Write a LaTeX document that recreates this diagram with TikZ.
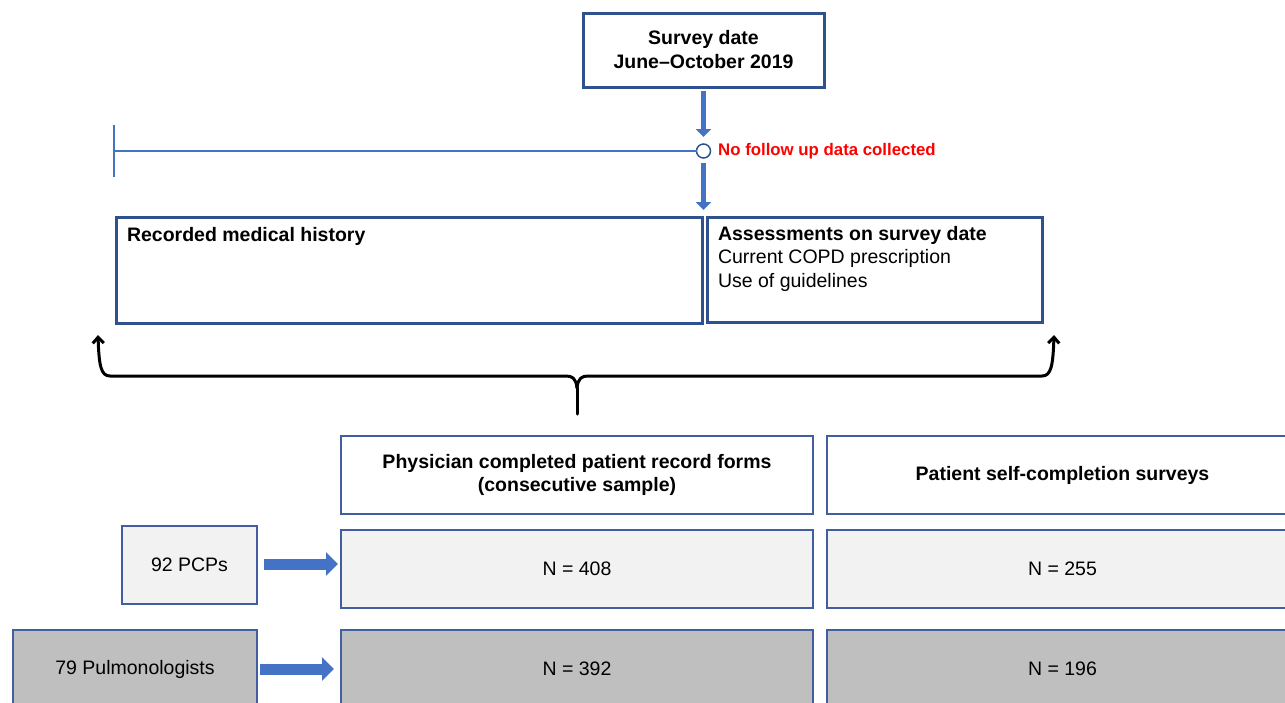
\documentclass[tikz,border=0pt]{standalone}
\usepackage{fontspec}
\setmainfont{Liberation Sans}
\usetikzlibrary{arrows.meta}
\definecolor{boxblue}{RGB}{47,82,143}
\definecolor{edgeblue}{RGB}{65,95,160}
\definecolor{accblue}{RGB}{68,114,196}
\definecolor{lightfill}{RGB}{242,242,242}
\definecolor{darkfill}{RGB}{191,191,191}
\definecolor{alertred}{RGB}{255,0,0}
\tikzset{
  thickbox/.style={draw=boxblue, line width=3pt, fill=white, inner sep=0pt, outer sep=0pt},
  thinbox/.style={draw=edgeblue, line width=1.5pt, inner sep=0pt, outer sep=0pt, align=center,
                  font=\fontsize{19.5}{23.5}\selectfont},
  txt/.style={inner sep=0pt, outer sep=0pt, font=\fontsize{19.5}{23.5}\selectfont},
  downarrow/.style={draw=accblue, line width=5.5pt, -{Triangle[length=8pt,width=15pt]}},
  blockarrow/.style={draw=accblue, line width=11pt, -{Triangle[length=12pt,width=23pt]}},
  braceline/.style={draw=black, line width=3pt, line cap=round, line join=round},
  bracetip/.style={braceline, -{Straight Barb[length=6pt,width=11pt,line width=3pt]}},
  timeline/.style={draw=accblue, line width=2.2pt}
}
\begin{document}
\begin{tikzpicture}[x=1pt,y=-1pt]
\useasboundingbox (0,0) rectangle (1285,702);

% top box
\node[thickbox, minimum width=241pt, minimum height=74pt, align=center,
      font=\bfseries\fontsize{19.5}{24}\selectfont] (survey) at (703.5,50) {Survey date\\June--October 2019};

% timeline
\node[circle, draw=boxblue, fill=white, line width=1.5pt, minimum size=14pt, inner sep=0pt, outer sep=0pt] (circ) at (703.5,151) {};
\coordinate (tlstart) at (114,151);
\coordinate (bartop) at (114,125);
\coordinate (barbot) at (114,177);
\draw[timeline] (tlstart) -- (circ.west);
\draw[timeline] (bartop) -- (barbot);
\node[anchor=west, inner sep=0pt, text=alertred, font=\bfseries\fontsize{16.8}{20}\selectfont] (nofollow) at (718,151) {No follow up data collected};

\draw[downarrow] ([yshift=-4pt]survey.south) -- ([yshift=7pt]circ.north);
\coordinate (arrowend) at (703.5,210);
\draw[downarrow] ([yshift=-5pt]circ.south) -- (arrowend);

% history boxes
\node[thickbox, minimum width=586pt, minimum height=106pt] (recorded) at (409,270) {};
\node[txt, anchor=base west, font=\bfseries\fontsize{19.5}{23.5}\selectfont] (rectext) at (127,241) {Recorded medical history};
\node[thickbox, minimum width=335pt, minimum height=105pt] (assess) at (874.5,269.5) {};
\node[txt, anchor=north west, align=left] (asstext) at (718,226)
  {\textbf{Assessments on survey date}\\Current COPD prescription\\Use of guidelines};

% brace
\coordinate (braceL) at (98,335);
\coordinate (braceR) at (1054,335);
\coordinate (braceC) at (577,414);
\coordinate (cusp) at (577,388);
\draw[bracetip] (cusp) .. controls (576,378) and (572,376) .. (566,376) -- (110,376) .. controls (101,376) and (99,366) .. (braceL);
\draw[bracetip] (cusp) .. controls (578,378) and (582,376) .. (588,376) -- (1042,376) .. controls (1051,376) and (1053,366) .. (braceR);
\draw[braceline] (cusp) -- (braceC);

% headers
\node[thinbox, fill=white, minimum width=472pt, minimum height=78pt, font=\bfseries\fontsize{19.5}{23}\selectfont] (phys) at (577,475)
  {Physician completed patient record forms\\(consecutive sample)};
\node[thinbox, fill=white, minimum width=471pt, minimum height=78pt, font=\bfseries\fontsize{19.5}{23}\selectfont] (patient) at (1062.5,475)
  {Patient self-completion surveys};

% row 1
\node[thinbox, fill=lightfill, minimum width=135pt, minimum height=78pt] (pcp) at (189.5,565) {92 PCPs};
\node[thinbox, fill=lightfill, minimum width=472pt, minimum height=78pt] (n408) at (577,569) {N = 408};
\node[thinbox, fill=lightfill, minimum width=471pt, minimum height=78pt] (n255) at (1062.5,569) {N = 255};

% row 2
\node[thinbox, fill=darkfill, minimum width=244pt, minimum height=78pt] (pulmo) at (135,669) {79 Pulmonologists};
\node[thinbox, fill=darkfill, minimum width=472pt, minimum height=78pt] (n392) at (577,669) {N = 392};
\node[thinbox, fill=darkfill, minimum width=471pt, minimum height=78pt] (n196) at (1062.5,669) {N = 196};

% block arrows
\coordinate (a1s) at (264,564);
\coordinate (a1e) at (338,564);
\draw[blockarrow] (a1s) -- (a1e);
\coordinate (a2s) at (260,669);
\coordinate (a2e) at (334,669);
\draw[blockarrow] (a2s) -- (a2e);
\end{tikzpicture}
\end{document}
